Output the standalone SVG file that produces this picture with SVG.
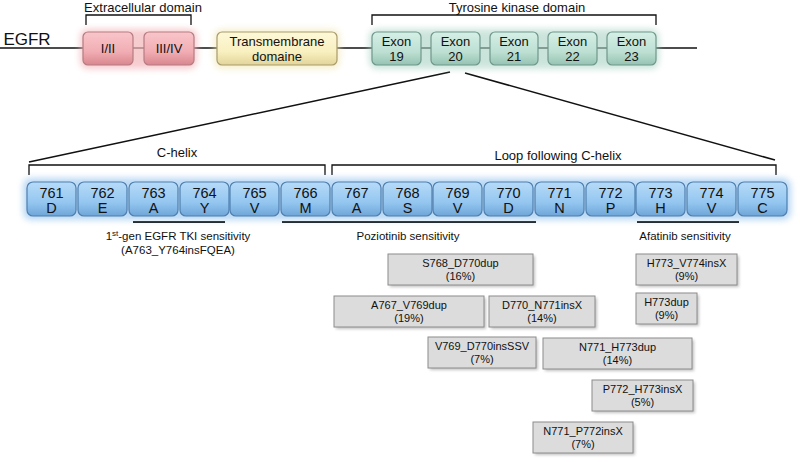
<svg xmlns="http://www.w3.org/2000/svg" width="800" height="462" viewBox="0 0 800 462">
<defs>
<linearGradient id="gPink" x1="0" y1="0" x2="0" y2="1"><stop offset="0" stop-color="#f8c6ca"/><stop offset="0.6" stop-color="#f1adb3"/><stop offset="1" stop-color="#d9868e"/></linearGradient>
<linearGradient id="gYel" x1="0" y1="0" x2="0" y2="1"><stop offset="0" stop-color="#fdf8d8"/><stop offset="0.6" stop-color="#f9f0c0"/><stop offset="1" stop-color="#e2d49a"/></linearGradient>
<linearGradient id="gTeal" x1="0" y1="0" x2="0" y2="1"><stop offset="0" stop-color="#d6efe6"/><stop offset="0.6" stop-color="#bde0d3"/><stop offset="1" stop-color="#96c3b3"/></linearGradient>
<linearGradient id="gBlue" x1="0" y1="0" x2="0" y2="1"><stop offset="0" stop-color="#b7dbf8"/><stop offset="0.6" stop-color="#94c6f0"/><stop offset="1" stop-color="#6fa6d8"/></linearGradient>
<filter id="glow" x="-30%" y="-40%" width="160%" height="180%"><feGaussianBlur stdDeviation="3"/></filter>
<filter id="shadow" x="-10%" y="-20%" width="130%" height="150%"><feGaussianBlur stdDeviation="1.5"/></filter>
</defs>
<style>
text{font-family:"Liberation Sans",Arial,sans-serif;fill:#111;text-anchor:middle}
.ln{stroke:#111;stroke-width:1.5;fill:none}
.br{stroke:#111;stroke-width:1.3;fill:none}
.pink{fill:url(#gPink);stroke:#b57c82;stroke-width:1.2}
.yel{fill:url(#gYel);stroke:#a89b6c;stroke-width:1.2}
.teal{fill:url(#gTeal);stroke:#6f978a;stroke-width:1.2}
.blue{fill:url(#gBlue);stroke:#4f7fae;stroke-width:1.2}
.gray{fill:#dcdcdc;stroke:#8c8c8c;stroke-width:1}
.sh{fill:#9a9a9a;opacity:0.6}
.t13{font-size:13px}
.t14{font-size:14.5px}
.t12{font-size:11.5px}
.t11{font-size:11px}
.ul{stroke:#111;stroke-width:2.2}
</style>

<g id="connectors">
<line class="ln" x1="0" y1="48" x2="697" y2="48"/>
<line class="ln" x1="450" y1="72" x2="29" y2="162"/>
<line class="ln" x1="465" y1="73" x2="775" y2="160"/>
<polyline class="br" points="86,25 86,15 191,15 191,25"/>
<polyline class="br" points="372,25 372,15 656,15 656,25"/>
<polyline class="br" points="29,175 29,165 325,165 325,175"/>
<polyline class="br" points="332,175 332,165 776,165 776,175"/>
<line class="ul" x1="133" y1="222" x2="225" y2="222"/>
<line class="ul" x1="282" y1="222" x2="536" y2="222"/>
<line class="ul" x1="637" y1="222" x2="739" y2="222"/>
</g>

<text x="27" y="45" style="font-size:17px">EGFR</text>
<text x="143" y="12" class="t13">Extracellular domain</text>
<text x="517" y="12" class="t13">Tyrosine kinase domain</text>
<text x="177" y="157" class="t13">C-helix</text>
<text x="558" y="160" class="t13">Loop following C-helix</text>

<g id="glows">
<rect x="80" y="29" width="117" height="40" rx="8" fill="#f3b7bc" opacity="0.7" filter="url(#glow)"/>
<rect x="214" y="29" width="126" height="40" rx="8" fill="#f0e6b0" opacity="0.6" filter="url(#glow)"/>
<rect x="369" y="29" width="290" height="40" rx="8" fill="#a9d3c4" opacity="0.6" filter="url(#glow)"/>
<rect x="23" y="178" width="768" height="42" rx="8" fill="#9cc8f0" opacity="0.7" filter="url(#glow)"/>
</g>

<g id="dom-I-II"><rect class="pink" x="83" y="32" width="50" height="33" rx="5"/><text x="108" y="53" class="t13">I/II</text></g>
<g id="dom-III-IV"><rect class="pink" x="144" y="32" width="50" height="33" rx="5"/><text x="169" y="53" class="t13">III/IV</text></g>
<g id="transmembrane"><rect class="yel" x="217" y="32" width="120" height="33" rx="5"/><text x="277" y="46" class="t13">Transmembrane</text><text x="277" y="61" class="t13">domaine</text></g>
<g id="exon19"><rect class="teal" x="372" y="32" width="49" height="33" rx="5"/><text x="396.5" y="46" class="t13">Exon</text><text x="396.5" y="61" class="t13">19</text></g>
<g id="exon20"><rect class="teal" x="431" y="32" width="49" height="33" rx="5"/><text x="455.5" y="46" class="t13">Exon</text><text x="455.5" y="61" class="t13">20</text></g>
<g id="exon21"><rect class="teal" x="490" y="32" width="48" height="33" rx="5"/><text x="514" y="46" class="t13">Exon</text><text x="514" y="61" class="t13">21</text></g>
<g id="exon22"><rect class="teal" x="548" y="32" width="49" height="33" rx="5"/><text x="572.5" y="46" class="t13">Exon</text><text x="572.5" y="61" class="t13">22</text></g>
<g id="exon23"><rect class="teal" x="607" y="32" width="49" height="33" rx="5"/><text x="631.5" y="46" class="t13">Exon</text><text x="631.5" y="61" class="t13">23</text></g>

<g id="r761"><rect class="blue" x="27" y="182" width="49" height="34" rx="6"/><text x="51.5" y="198" class="t14">761</text><text x="51.5" y="213" class="t14">D</text></g>
<g id="r762"><rect class="blue" x="78" y="182" width="49" height="34" rx="6"/><text x="102.5" y="198" class="t14">762</text><text x="102.5" y="213" class="t14">E</text></g>
<g id="r763"><rect class="blue" x="129" y="182" width="49" height="34" rx="6"/><text x="153.5" y="198" class="t14">763</text><text x="153.5" y="213" class="t14">A</text></g>
<g id="r764"><rect class="blue" x="180" y="182" width="49" height="34" rx="6"/><text x="204.5" y="198" class="t14">764</text><text x="204.5" y="213" class="t14">Y</text></g>
<g id="r765"><rect class="blue" x="230" y="182" width="49" height="34" rx="6"/><text x="254.5" y="198" class="t14">765</text><text x="254.5" y="213" class="t14">V</text></g>
<g id="r766"><rect class="blue" x="281" y="182" width="49" height="34" rx="6"/><text x="305.5" y="198" class="t14">766</text><text x="305.5" y="213" class="t14">M</text></g>
<g id="r767"><rect class="blue" x="332" y="182" width="49" height="34" rx="6"/><text x="356.5" y="198" class="t14">767</text><text x="356.5" y="213" class="t14">A</text></g>
<g id="r768"><rect class="blue" x="383" y="182" width="49" height="34" rx="6"/><text x="407.5" y="198" class="t14">768</text><text x="407.5" y="213" class="t14">S</text></g>
<g id="r769"><rect class="blue" x="433" y="182" width="49" height="34" rx="6"/><text x="457.5" y="198" class="t14">769</text><text x="457.5" y="213" class="t14">V</text></g>
<g id="r770"><rect class="blue" x="484" y="182" width="49" height="34" rx="6"/><text x="508.5" y="198" class="t14">770</text><text x="508.5" y="213" class="t14">D</text></g>
<g id="r771"><rect class="blue" x="535" y="182" width="49" height="34" rx="6"/><text x="559.5" y="198" class="t14">771</text><text x="559.5" y="213" class="t14">N</text></g>
<g id="r772"><rect class="blue" x="586" y="182" width="49" height="34" rx="6"/><text x="610.5" y="198" class="t14">772</text><text x="610.5" y="213" class="t14">P</text></g>
<g id="r773"><rect class="blue" x="636" y="182" width="49" height="34" rx="6"/><text x="660.5" y="198" class="t14">773</text><text x="660.5" y="213" class="t14">H</text></g>
<g id="r774"><rect class="blue" x="687" y="182" width="49" height="34" rx="6"/><text x="711.5" y="198" class="t14">774</text><text x="711.5" y="213" class="t14">V</text></g>
<g id="r775"><rect class="blue" x="738" y="182" width="49" height="34" rx="6"/><text x="762.5" y="198" class="t14">775</text><text x="762.5" y="213" class="t14">C</text></g>

<text x="178" y="240" class="t12">1<tspan style="font-size:8px" dy="-4">st</tspan><tspan dy="4">-gen EGFR TKI sensitivity</tspan></text>
<text x="178" y="254" class="t12">(A763_Y764insFQEA)</text>
<text x="408" y="240" class="t12">Poziotinib sensitivity</text>
<text x="685" y="240" class="t12">Afatinib sensitivity</text>

<g id="m-S768_D770dup"><rect class="sh" x="390" y="256" width="145" height="31" filter="url(#shadow)"/><rect class="gray" x="388" y="254" width="145" height="31"/><text x="460.5" y="267" class="t11">S768_D770dup</text><text x="460.5" y="280" class="t11">(16%)</text></g>
<g id="m-H773_V774insX"><rect class="sh" x="638" y="256" width="101" height="31" filter="url(#shadow)"/><rect class="gray" x="636" y="254" width="101" height="31"/><text x="686.5" y="267" class="t11">H773_V774insX</text><text x="686.5" y="280" class="t11">(9%)</text></g>
<g id="m-A767_V769dup"><rect class="sh" x="336" y="298" width="150" height="31" filter="url(#shadow)"/><rect class="gray" x="334" y="296" width="150" height="31"/><text x="409" y="309" class="t11">A767_V769dup</text><text x="409" y="322" class="t11">(19%)</text></g>
<g id="m-D770_N771insX"><rect class="sh" x="491" y="298" width="106" height="31" filter="url(#shadow)"/><rect class="gray" x="489" y="296" width="106" height="31"/><text x="542" y="309" class="t11">D770_N771insX</text><text x="542" y="322" class="t11">(14%)</text></g>
<g id="m-H773dup"><rect class="sh" x="638" y="295" width="61" height="31" filter="url(#shadow)"/><rect class="gray" x="636" y="293" width="61" height="31"/><text x="666.5" y="306" class="t11">H773dup</text><text x="666.5" y="319" class="t11">(9%)</text></g>
<g id="m-V769_D770insSSV"><rect class="sh" x="430" y="339" width="108" height="31" filter="url(#shadow)"/><rect class="gray" x="428" y="337" width="108" height="31"/><text x="482" y="350" class="t11">V769_D770insSSV</text><text x="482" y="363" class="t11">(7%)</text></g>
<g id="m-N771_H773dup"><rect class="sh" x="545" y="340" width="149" height="31" filter="url(#shadow)"/><rect class="gray" x="543" y="338" width="149" height="31"/><text x="617.5" y="351" class="t11">N771_H773dup</text><text x="617.5" y="364" class="t11">(14%)</text></g>
<g id="m-P772_H773insX"><rect class="sh" x="594" y="382" width="101" height="31" filter="url(#shadow)"/><rect class="gray" x="592" y="380" width="101" height="31"/><text x="642.5" y="393" class="t11">P772_H773insX</text><text x="642.5" y="406" class="t11">(5%)</text></g>
<g id="m-N771_P772insX"><rect class="sh" x="535" y="424" width="100" height="31" filter="url(#shadow)"/><rect class="gray" x="533" y="422" width="100" height="31"/><text x="583" y="435" class="t11">N771_P772insX</text><text x="583" y="448" class="t11">(7%)</text></g>
</svg>
